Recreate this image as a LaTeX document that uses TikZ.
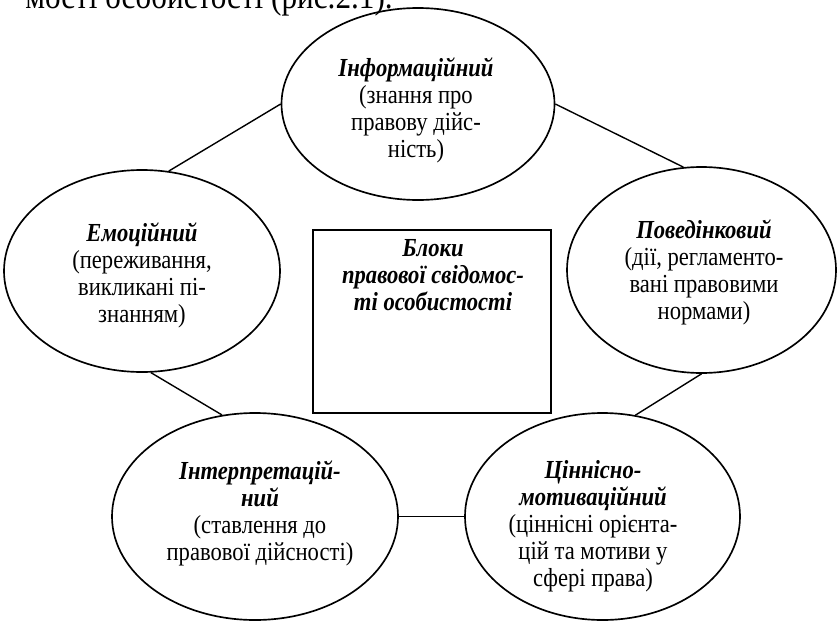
\documentclass[tikz,border=0pt]{standalone}
\usepackage{fontspec}
\setmainfont{Liberation Serif}[FakeStretch=0.87]
\usetikzlibrary{shapes.geometric}

\begin{document}
\begin{tikzpicture}[x=0.75pt,y=0.75pt,yscale=-1,xscale=1,
  blob/.style={draw,ellipse,line width=1.25pt,inner sep=0pt},
  blocktext/.style={anchor=north,align=center,inner sep=0.75pt,font=\fontsize{19.5}{20.25}\selectfont},
  link/.style={line width=1.05pt}]
\useasboundingbox (0,0) rectangle (838,621);
% cut-off line of the paragraph above
\node [anchor=base west,inner sep=0pt,font=\fontsize{26.9}{30}\selectfont] (caption) at (25,8) {мості особистості (рис.2.1).};
% blocks
\node [blob,minimum width=204.75pt,minimum height=144pt] (info) at (418,104) {};
\node [blob,minimum width=207pt,minimum height=151.5pt] (emo) at (142,271) {};
\node [blob,minimum width=201.75pt,minimum height=154.5pt] (behav) at (701.5,270) {};
\node [blob,minimum width=214.5pt,minimum height=155.25pt] (interp) at (255,516.5) {};
\node [blob,minimum width=206.25pt,minimum height=155.25pt] (value) at (602.5,516.5) {};
\node [draw,line width=1.25pt,inner sep=0pt,minimum width=178.5pt,minimum height=137.25pt] (core) at (432,321.5) {};
% texts
\node [blocktext] (infotxt) at (416,56.5) {\textbf{\textit{Інформаційний}}\\(знання про\\правову дійс-\\ність)};
\node [blocktext] (emotxt) at (142,221.5) {\textbf{\textit{Емоційний}}\\(переживання,\\викликані пі-\\знанням)};
\node [blocktext] (behavtxt) at (704,218.5) {\textbf{\textit{Поведінковий}}\\(дії, регламенто-\\вані правовими\\нормами)};
\node [blocktext] (coretxt) at (433,238.5) {\textbf{\textit{Блоки}}\\\textbf{\textit{правової свідомос-}}\\\textbf{\textit{ті особистості}}};
\node [blocktext] (interptxt) at (260,459.5) {\textbf{\textit{Інтерпретацій-}}\\\textbf{\textit{ний}}\\(ставлення до\\правової дійсності)};
\node [blocktext] (valuetxt) at (593,459.5) {\textbf{\textit{Ціннісно-}}\\\textbf{\textit{мотиваційний}}\\(ціннісні орієнта-\\цій та мотиви у\\сфері права)};
% links
\draw [link] (emo.75) -- (info.west);
\draw [link] (info.east) -- (behav.100);
\draw [link] (emo.-85) -- (interp.108);
\draw [link] (behav.south) -- (value.72);
\draw [link] (interp.east) -- (value.west);
\end{tikzpicture}
\end{document}
